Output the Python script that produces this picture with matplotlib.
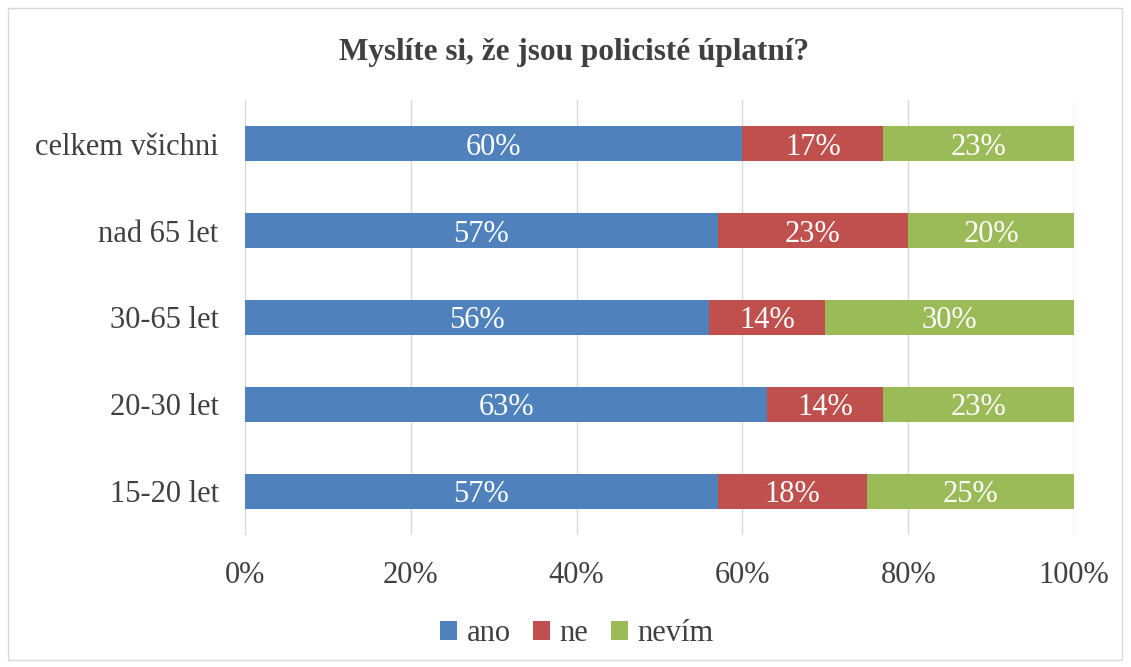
import matplotlib

matplotlib.use("Agg")
import matplotlib.pyplot as plt
from matplotlib.patches import Rectangle
from matplotlib.ticker import FuncFormatter

categories = ["celkem všichni", "nad 65 let", "30-65 let", "20-30 let", "15-20 let"]
ano = [60, 57, 56, 63, 57]
ne = [17, 23, 14, 14, 18]
nevim = [23, 20, 30, 23, 25]
series_names = ["ano", "ne", "nevím"]
colors = ["#4F81BD", "#C0504D", "#9BBB59"]

plt.rcParams["font.family"] = ["Liberation Serif", "DejaVu Serif"]

fig = plt.figure(figsize=(11.31, 6.67), dpi=100)
ax = fig.add_axes([0.2166, 0.198, 0.733, 0.652])

ypos = list(range(len(categories)))[::-1]
left = [0] * len(categories)
for name, values, color in zip(series_names, [ano, ne, nevim], colors):
    ax.barh(ypos, values, left=left, height=0.41, color=color, label=name)
    for y, v, l in zip(ypos, values, left):
        ax.text(l + v / 2, y, f"{v}%", ha="center", va="center_baseline", color="white", fontsize=22)
    left = [l + v for l, v in zip(left, values)]

ax.set_xlim(0, 100)
ax.set_ylim(-0.5, len(categories) - 0.5)
ax.set_xticks([0, 20, 40, 60, 80, 100])
ax.xaxis.set_major_formatter(FuncFormatter(lambda x, _: f"{int(x)}%"))
ax.set_yticks(ypos)
ax.set_yticklabels(categories)
ax.tick_params(axis="both", length=0, labelsize=22, colors="#404040")
ax.tick_params(axis="y", pad=19)
ax.tick_params(axis="x", pad=19)
ax.grid(axis="x", color="#D9D9D9", linewidth=1)
ax.set_axisbelow(True)
for spine in ax.spines.values():
    spine.set_visible(False)

fig.text(0.508, 0.922, "Myslíte si, že jsou policisté úplatní?", ha="center", va="center",
         fontsize=22.5, fontweight="bold", color="#404040")

fig.legend(loc="center", bbox_to_anchor=(0.51, 0.05), ncol=3, frameon=False, fontsize=22,
           handlelength=0.55, handleheight=0.55, handletextpad=0.3, columnspacing=0.75,
           labelcolor="#404040")

fig.patches.append(Rectangle((0.007, 0.01), 0.985, 0.978, transform=fig.transFigure,
                             fill=False, edgecolor="#D9D9D9", linewidth=1))

fig.savefig("out.png", dpi=100)
